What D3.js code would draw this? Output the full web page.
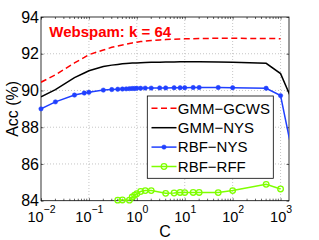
<!DOCTYPE html>
<html>
<head>
<meta charset="utf-8">
<script src="https://cdn.jsdelivr.net/npm/d3@7"></script>
<style>
body { margin: 0; background: #fff; }
svg { display: block; font-family: "Liberation Sans", Arial, sans-serif; }
</style>
</head>
<body>
<svg id="chart"></svg>
<script>
// C values and accuracies
const cNys = [0.01, 0.02, 0.05, 0.08, 0.1, 0.2, 0.3, 0.4, 0.5, 0.6, 0.7, 0.8, 0.9, 1, 1.2, 1.5, 2, 3, 4, 6, 8, 10, 15, 20, 50, 100, 500, 1000, 2000];
const cGcws = [0.01, 0.02, 0.05, 0.08, 0.1, 0.2, 0.3, 0.4, 0.5, 0.6, 0.7, 0.8, 0.9, 1, 1.2, 1.5, 2, 3, 4, 6, 8, 10, 15, 20, 50, 100, 500, 1000];
const cRff = [0.4, 0.5, 0.7, 0.8, 0.9, 1, 1.2, 1.5, 2, 4, 6, 8, 10, 15, 20, 50, 100, 500, 1000];

const accGmmGcws = [90.45, 90.85, 91.5, 91.8, 91.95, 92.2, 92.35, 92.42, 92.48, 92.52, 92.56, 92.59, 92.61, 92.63, 92.66, 92.69, 92.72, 92.75, 92.77, 92.79, 92.8, 92.81, 92.82, 92.83, 92.84, 92.84, 92.83, 92.82];
const accGmmNys = [89.66, 90.05, 90.7, 90.95, 91.07, 91.3, 91.38, 91.42, 91.45, 91.47, 91.48, 91.49, 91.5, 91.5, 91.51, 91.52, 91.53, 91.54, 91.55, 91.55, 91.56, 91.56, 91.56, 91.56, 91.55, 91.54, 91.48, 90.92, 89.1];
const accRbfNys = [89.0, 89.38, 89.75, 89.86, 89.9, 90.02, 90.05, 90.07, 90.08, 90.09, 90.1, 90.11, 90.11, 90.12, 90.12, 90.13, 90.13, 90.14, 90.14, 90.15, 90.15, 90.15, 90.16, 90.16, 90.16, 90.15, 90.12, 89.72, 85.9];
const accRbfRff = [84.03, 84.04, 84.03, 84.2, 84.3, 84.38, 84.5, 84.55, 84.55, 84.4, 84.42, 84.45, 84.44, 84.45, 84.45, 84.44, 84.55, 84.89, 84.64];

const xTicks = [1e-2, 1e-1, 1e0, 1e1, 1e2, 1e3];
const xExps = ["\u22122", "\u22121", "0", "1", "2", "3"];
const yTicks = [84, 86, 88, 90, 92, 94];
const seriesNames = ["GMM\u2212GCWS", "GMM\u2212NYS", "RBF\u2212NYS", "RBF\u2212RFF"];
const title = "Webspam: k = 64";

const width = 319, height = 240;
const margin = { top: 17, right: 30, bottom: 39.3, left: 41 };
const plotW = width - margin.left - margin.right;
const plotH = height - margin.top - margin.bottom;

const svg = d3.select('#chart').attr('width', width).attr('height', height);

const x = d3.scaleLog().domain([0.01, 1500]).range([0, plotW]);
const y = d3.scaleLinear().domain([84, 94]).range([plotH, 0]);

const g = svg.append('g').attr('transform', `translate(${margin.left},${margin.top})`);

g.append('clipPath').attr('id', 'clip')
    .append('rect').attr('width', plotW).attr('height', plotH);

// dotted grid
g.selectAll('.gx').data(xTicks.slice(1))
    .enter().append('line')
    .attr('x1', d => x(d)).attr('x2', d => x(d))
    .attr('y1', 0).attr('y2', plotH)
    .attr('stroke', '#b8b8b8').attr('stroke-width', 0.8).attr('stroke-dasharray', '1,2');
g.selectAll('.gy').data(yTicks.slice(1, -1))
    .enter().append('line')
    .attr('x1', 0).attr('x2', plotW)
    .attr('y1', d => y(d)).attr('y2', d => y(d))
    .attr('stroke', '#b8b8b8').attr('stroke-width', 0.8).attr('stroke-dasharray', '1,2');

// minor ticks for log axis
const minor = [];
for (let e = -2; e <= 3; e++) {
    for (let m = 2; m <= 9; m++) {
        const v = m * Math.pow(10, e);
        if (v < 1500) minor.push(v);
    }
}

// axes
const tick = 2.5;
const xAxis = g.append('g').attr('transform', `translate(0,${plotH})`)
    .call(d3.axisBottom(x).tickValues(xTicks).tickSize(-tick).tickSizeOuter(0).tickPadding(11));
xAxis.selectAll('text').each(function(d, i) {
    const t = d3.select(this);
    t.text('');
    t.append('tspan').text('10');
    t.append('tspan').attr('dy', -8.5).attr('font-size', 10.5).text(xExps[i]);
});
xAxis.selectAll('text').attr('font-size', 14.5).attr('fill', '#000');

g.append('g')
    .call(d3.axisTop(x).tickValues(xTicks).tickSize(-tick).tickSizeOuter(0).tickFormat(''));

const yAxis = g.append('g')
    .call(d3.axisLeft(y).tickValues(yTicks).tickSize(-tick).tickSizeOuter(0).tickPadding(2));
yAxis.selectAll('text').attr('font-size', 16).attr('fill', '#000');

g.append('g').attr('transform', `translate(${plotW},0)`)
    .call(d3.axisRight(y).tickValues(yTicks).tickSize(-tick).tickSizeOuter(0).tickFormat(''));

g.selectAll('.mb').data(minor).enter().append('line')
    .attr('x1', d => x(d)).attr('x2', d => x(d))
    .attr('y1', plotH).attr('y2', plotH - 2).attr('stroke', '#000').attr('stroke-width', 0.6);
g.selectAll('.mt').data(minor).enter().append('line')
    .attr('x1', d => x(d)).attr('x2', d => x(d))
    .attr('y1', 0).attr('y2', 2).attr('stroke', '#000').attr('stroke-width', 0.6);

g.selectAll('.domain').remove();
g.selectAll('.tick line').attr('stroke-width', 0.6);

g.append('rect').attr('width', plotW).attr('height', plotH)
    .attr('fill', 'none').attr('stroke', '#000').attr('stroke-width', 0.8);

// lines
const line = d3.line().x(d => x(d[0])).y(d => y(d[1]));
const zip = (cs, vs) => cs.map((c, i) => [c, vs[i]]);

const series = [
    { data: zip(cGcws, accGmmGcws), color: '#ff0000', dash: '6,3.5', marker: null },
    { data: zip(cNys, accGmmNys), color: '#000000', dash: null, marker: null },
    { data: zip(cNys, accRbfNys), color: '#2040ff', dash: null, marker: 'dot' },
    { data: zip(cRff, accRbfRff), color: '#7fff00', dash: null, marker: 'circle' }
];

const lines = g.append('g').attr('clip-path', 'url(#clip)');
series.forEach(s => {
    lines.append('path')
        .attr('d', line(s.data))
        .attr('fill', 'none')
        .attr('stroke', s.color)
        .attr('stroke-width', 1.5)
        .attr('stroke-dasharray', s.dash);
});

series.forEach(s => {
    if (!s.marker) return;
    const pts = s.data.filter(d => d[0] <= 1500);
    g.selectAll(null).data(pts).enter().append('circle')
        .attr('cx', d => x(d[0])).attr('cy', d => y(d[1]))
        .attr('r', s.marker === 'dot' ? 2.2 : 2.8)
        .attr('fill', s.marker === 'dot' ? s.color : 'none')
        .attr('stroke', s.color)
        .attr('stroke-width', s.marker === 'dot' ? 0.5 : 1.3);
});

// title inside the plot
svg.append('text')
    .attr('x', 49.3).attr('y', 37)
    .attr('font-size', 15).attr('font-weight', 'bold')
    .attr('fill', '#ff0000')
    .text(title);

// axis labels
svg.append('text')
    .attr('transform', `translate(12,${margin.top + plotH / 2}) rotate(-90)`)
    .attr('text-anchor', 'middle').attr('dy', '0.35em')
    .attr('font-size', 16)
    .text('Acc (%)');
svg.append('text')
    .attr('x', margin.left + plotW / 2).attr('y', 237.4)
    .attr('text-anchor', 'middle')
    .attr('font-size', 16)
    .text('C');

// legend
const legend = svg.append('g').attr('transform', 'translate(147.3,96)');
legend.append('rect').attr('width', 126).attr('height', 82.3)
    .attr('fill', '#fff').attr('stroke', '#000').attr('stroke-width', 0.8);

series.forEach((s, i) => {
    const ly = 12.3 + i * 19.4;
    legend.append('line')
        .attr('x1', 4.2).attr('x2', 29.2).attr('y1', ly).attr('y2', ly)
        .attr('stroke', s.color).attr('stroke-width', 1.5)
        .attr('stroke-dasharray', s.dash);
    if (s.marker) {
        legend.append('circle')
            .attr('cx', 16.7).attr('cy', ly)
            .attr('r', s.marker === 'dot' ? 2.2 : 2.8)
            .attr('fill', s.marker === 'dot' ? s.color : 'none')
            .attr('stroke', s.color)
            .attr('stroke-width', s.marker === 'dot' ? 0.5 : 1.3);
    }
    legend.append('text')
        .attr('x', 30.5).attr('y', ly).attr('dy', '0.35em')
        .attr('font-size', 15)
        .text(seriesNames[i]);
});
</script>
</body>
</html>
